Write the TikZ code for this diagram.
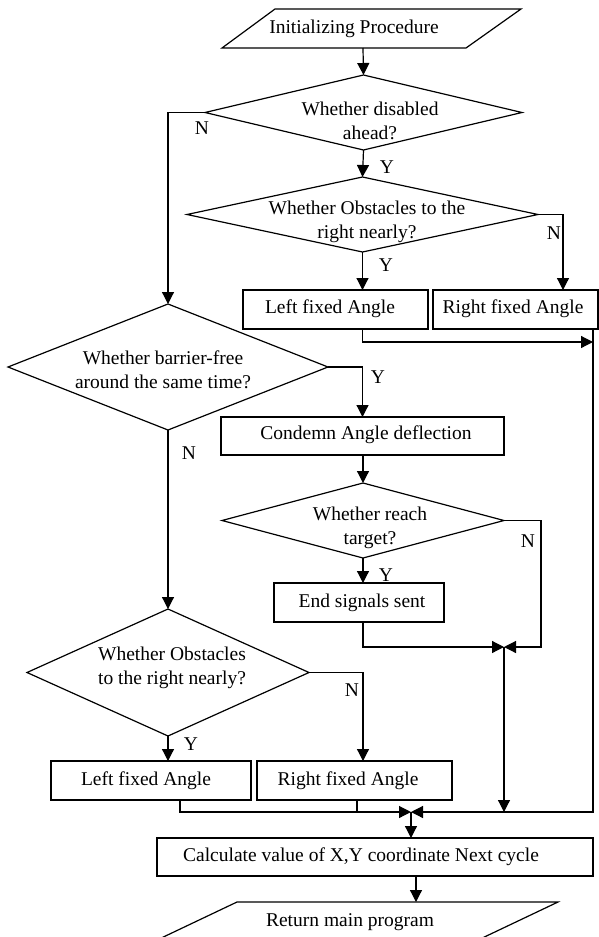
\documentclass[tikz,border=0pt]{standalone}
\usepackage{fontspec}
\setmainfont{Liberation Serif}
\usetikzlibrary{arrows.meta,shapes.geometric}
\begin{document}
\begin{tikzpicture}[x=1pt,y=-1pt,
  line width=1.2pt,
  every node/.style={outer sep=0pt},
  txt/.style={font=\fontsize{19.5pt}{24pt}\selectfont, align=center, inner sep=0pt},
  dia/.style={draw, diamond, inner sep=0pt},
  box/.style={draw, rectangle, inner sep=0pt},
  arr/.style={-{Triangle[length=12pt,width=12pt]}}
]
\useasboundingbox (0,0) rectangle (599,937);

% ---- input / output shapes
\draw (222,48) -- (466,48) -- (521,9) -- (275,9) -- cycle;
\node[txt] (initT) at (354,29) {Initializing Procedure};
\coordinate (initS) at (363,48);

\begin{scope}
\clip (0,0) rectangle (599,937);
\draw (237,902) -- (558,902) -- (457,950) -- (136,950) -- cycle;
\end{scope}
\node[txt] (retTx) at (350,922) {Return main program};
\coordinate (retT) at (416,902);

% ---- decisions
\node[dia, minimum width=317pt, minimum height=75pt] (d1) at (363.5,112.5) {};
\node[txt] (d1t) at (370,120.5) {Whether disabled\\ahead?};

\node[dia, minimum width=351pt, minimum height=75pt] (d2) at (362.5,214.5) {};
\node[txt] (d2t) at (367,222) {Whether Obstacles to the\\right nearly?};

\node[dia, minimum width=320pt, minimum height=126pt] (d3) at (168,367) {};
\node[txt] (d3t) at (163,370) {Whether barrier-free\\around the same time?};

\node[dia, minimum width=282pt, minimum height=75pt] (d4) at (363,520.5) {};
\node[txt] (d4t) at (370,527.5) {Whether reach\\target?};

\node[dia, minimum width=282pt, minimum height=127pt] (d5) at (168,672.5) {};
\node[txt] (d5t) at (172,667.5) {Whether Obstacles\\to the right nearly?};

% ---- process boxes
\node[box, minimum width=185pt, minimum height=39pt] (lfa1) at (335.5,309.5) {};
\node[txt] (lfa1t) at (330,309) {Left fixed Angle};
\node[box, minimum width=165pt, minimum height=39pt] (rfa1) at (515.5,309.5) {};
\node[txt] (rfa1t) at (513,309) {Right fixed Angle};

\node[box, minimum width=283pt, minimum height=38pt] (cond) at (362.5,436) {};
\node[txt] (condt) at (366,435) {Condemn Angle deflection};

\node[box, minimum width=170pt, minimum height=39pt] (ess) at (359,602.5) {};
\node[txt] (esst) at (362,602.5) {End signals sent};

\node[box, minimum width=200pt, minimum height=39pt] (lfa2) at (151,780.5) {};
\node[txt] (lfa2t) at (146,781) {Left fixed Angle};
\node[box, minimum width=195pt, minimum height=39pt] (rfa2) at (354.5,780.5) {};
\node[txt] (rfa2t) at (348,781) {Right fixed Angle};

\node[box, minimum width=436pt, minimum height=38pt] (calc) at (375,857) {};
\node[txt] (calct) at (361,857) {Calculate value of X,Y coordinate Next cycle};

% ---- joints
\coordinate (j1) at (593,342);
\coordinate (j4) at (541,647);
\coordinate (mB) at (504,647);
\coordinate (mA) at (411,812);

% ---- connectors
\draw[arr] (initS) -- (d1.north);
\draw[arr] (d1.west) -| (d3.north);
\draw[arr] (d1.south) -- (d2.north);
\draw[arr] (d2.east) -| ([xshift=47.5pt]rfa1.north);
\draw[arr] (d2.south) -- (d2.south |- lfa1.north);
\draw[arr] (d2.south |- lfa1.south) |- (j1);
\draw[arr] (j1 |- rfa1.south) |- (mA);
\draw[arr] (d3.east) -| (cond.north);
\draw[arr] (cond.south -| d4.north) -- (d4.north);
\draw[arr] (d4.south) -- (d4.south |- ess.north);
\draw[arr] (d4.east) -| (j4) -- (mB);
\draw[arr] (ess.south -| d4.south) |- (mB);
\draw[arr] (mB) -- (mB |- mA);
\draw[arr] (d3.south) -- (d5.north);
\draw[arr] (d5.east) -| ([xshift=8.5pt]rfa2.north);
\draw[arr] (d5.south) -- (d5.south |- lfa2.north);
\draw[arr] ([xshift=29pt]lfa2.south) |- (mA);
\draw ([xshift=2.5pt]rfa2.south) -- ([xshift=2.5pt]rfa2.south |- mA);
\draw[arr] (mA) -- (mA |- calc.north);
\draw[arr] (calc.south -| retT) -- (retT);

% ---- branch labels
\node[txt] (n1) at (202,128) {N};
\node[txt] (y1) at (387,167) {Y};
\node[txt] (n2) at (554,233) {N};
\node[txt] (y2) at (386,265) {Y};
\node[txt] (y3) at (378,377) {Y};
\node[txt] (n3) at (189,453) {N};
\node[txt] (n4) at (528,541) {N};
\node[txt] (y4) at (386,575) {Y};
\node[txt] (n5) at (352,690) {N};
\node[txt] (y5) at (191,744) {Y};
\end{tikzpicture}
\end{document}
